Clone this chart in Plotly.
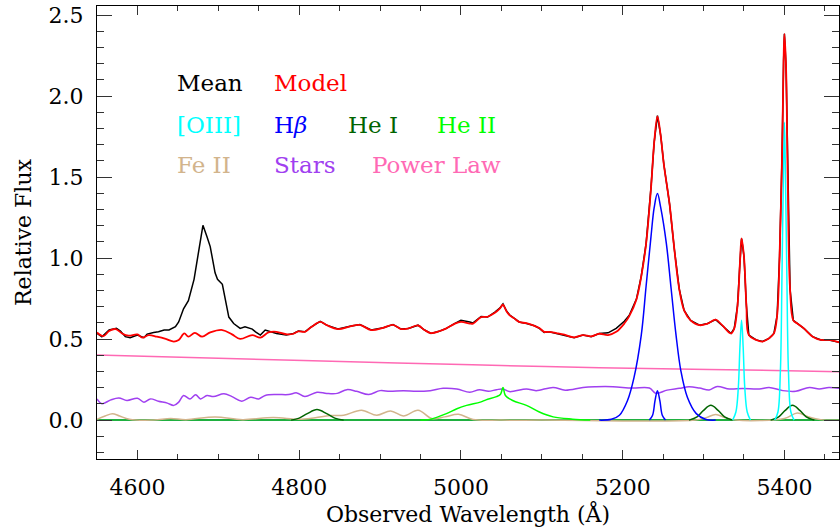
import plotly.graph_objects as go

# ---------------- data ----------------
mean_wave = [4550, 4556, 4565, 4574, 4579, 4585, 4591, 4600, 4608, 4612, 4620, 4626, 4633, 4639,
             4647, 4651, 4657, 4663, 4670, 4676, 4681, 4686, 4690, 4696, 4699, 4705, 4709, 4713,
             4719, 4727, 4733, 4742, 4746, 4752, 4758, 4764, 4772, 4784, 4793, 4799, 4807, 4815,
             4826, 4834, 4848, 4863, 4875, 4889, 4904, 4916, 4926, 4935, 4947, 4955, 4963, 4974,
             4982, 4992, 5000, 5011, 5015, 5025, 5033, 5042, 5048, 5052, 5056, 5060, 5066, 5072,
             5081, 5091, 5097, 5103, 5109, 5118, 5128, 5140, 5151, 5161, 5171, 5182, 5192, 5202,
             5208, 5217, 5223, 5229, 5235, 5239, 5243, 5247, 5251, 5258, 5264, 5270, 5276, 5284,
             5295, 5305, 5315, 5323, 5334, 5338, 5342, 5345, 5347, 5350, 5353, 5356, 5365, 5373,
             5381, 5387, 5391, 5394, 5397, 5399, 5400, 5402, 5404, 5407, 5411, 5416, 5424, 5435,
             5445, 5455, 5468]
mean_flux = [0.535, 0.515, 0.556, 0.566, 0.550, 0.515, 0.509, 0.525, 0.509, 0.531, 0.541, 0.545, 0.556, 0.556,
             0.576, 0.606, 0.687, 0.737, 0.869, 1.050, 1.202, 1.131, 1.071, 0.909, 0.869, 0.838, 0.727, 0.636,
             0.596, 0.566, 0.576, 0.562, 0.545, 0.525, 0.556, 0.545, 0.535, 0.525, 0.535, 0.550, 0.545, 0.576,
             0.610, 0.586, 0.562, 0.580, 0.590, 0.556, 0.570, 0.590, 0.562, 0.566, 0.586, 0.556, 0.535, 0.550,
             0.566, 0.596, 0.616, 0.606, 0.600, 0.640, 0.636, 0.667, 0.691, 0.717, 0.677, 0.650, 0.630, 0.606,
             0.596, 0.582, 0.566, 0.541, 0.545, 0.535, 0.525, 0.509, 0.525, 0.515, 0.535, 0.539, 0.566, 0.610,
             0.646, 0.747, 0.889, 1.091, 1.434, 1.717, 1.879, 1.758, 1.576, 1.333, 1.050, 0.808, 0.677, 0.616,
             0.586, 0.596, 0.620, 0.586, 0.535, 0.566, 0.707, 0.970, 1.121, 1.010, 0.707, 0.525, 0.495, 0.485,
             0.505, 0.535, 0.646, 1.010, 1.616, 2.222, 2.384, 2.182, 1.515, 0.808, 0.616, 0.596, 0.566, 0.515,
             0.495, 0.495, 0.480]

model_wave = [4550, 4558, 4565, 4573, 4581, 4589, 4600, 4606, 4614, 4624, 4635, 4645, 4651, 4658, 4663,
              4671, 4680, 4690, 4705, 4717, 4727, 4742, 4752, 4762, 4772, 4785, 4793, 4799, 4807, 4815,
              4826, 4834, 4848, 4863, 4875, 4889, 4904, 4916, 4926, 4935, 4947, 4955, 4963, 4974, 4982,
              4992, 5000, 5011, 5015, 5025, 5033, 5042, 5048, 5052, 5056, 5060, 5066, 5072, 5081, 5091,
              5097, 5103, 5109, 5118, 5128, 5140, 5151, 5161, 5171, 5182, 5192, 5202, 5208, 5217, 5223,
              5229, 5235, 5239, 5243, 5247, 5251, 5258, 5264, 5270, 5276, 5284, 5295, 5305, 5315, 5323,
              5334, 5338, 5342, 5345, 5347, 5350, 5353, 5356, 5365, 5373, 5381, 5387, 5391, 5394, 5397,
              5399, 5400, 5402, 5404, 5407, 5411, 5416, 5424, 5435, 5445, 5455, 5468]
model_flux = [0.541, 0.519, 0.550, 0.562, 0.535, 0.521, 0.529, 0.509, 0.525, 0.515, 0.501, 0.485, 0.495, 0.535, 0.515,
              0.539, 0.515, 0.541, 0.556, 0.529, 0.501, 0.525, 0.509, 0.541, 0.545, 0.529, 0.533, 0.548, 0.545, 0.574,
              0.606, 0.586, 0.562, 0.578, 0.588, 0.556, 0.570, 0.588, 0.562, 0.566, 0.584, 0.556, 0.537, 0.550, 0.566,
              0.594, 0.606, 0.596, 0.596, 0.636, 0.638, 0.662, 0.688, 0.712, 0.675, 0.648, 0.628, 0.606, 0.598, 0.582,
              0.568, 0.545, 0.545, 0.537, 0.527, 0.511, 0.525, 0.517, 0.533, 0.525, 0.545, 0.596, 0.640, 0.745, 0.887,
              1.090, 1.430, 1.715, 1.875, 1.755, 1.575, 1.333, 1.050, 0.808, 0.677, 0.616, 0.586, 0.596, 0.620, 0.586,
              0.535, 0.566, 0.707, 0.970, 1.121, 1.010, 0.707, 0.525, 0.495, 0.485, 0.505, 0.535, 0.646, 1.010, 1.616,
              2.222, 2.384, 2.182, 1.515, 0.808, 0.616, 0.596, 0.566, 0.515, 0.495, 0.495, 0.480]

oiii_wave = [5336, 5340, 5343, 5345, 5347, 5349, 5351, 5354, 5358, None,
             5388, 5392, 5395, 5397, 5399, 5400, 5401, 5403, 5405, 5408, 5412]
oiii_flux = [0.0, 0.05, 0.20, 0.45, 0.616, 0.45, 0.20, 0.05, 0.0, None,
             0.0, 0.05, 0.30, 0.90, 1.60, 1.838, 1.60, 0.90, 0.30, 0.05, 0.0]

hb_broad_wave = [5171, 5186, 5196, 5206, 5214, 5223, 5229, 5235, 5239, 5243, 5247, 5254, 5260, 5266,
                 5272, 5280, 5291, 5303, 5315]
hb_broad_flux = [0.0, 0.005, 0.03, 0.121, 0.262, 0.525, 0.828, 1.131, 1.313, 1.398, 1.313, 1.091, 0.808, 0.525,
                 0.303, 0.141, 0.040, 0.004, 0.0]
hb_narrow_wave = [5233, 5237, 5240, 5243, 5246, 5249, 5253]
hb_narrow_flux = [0.0, 0.03, 0.12, 0.182, 0.12, 0.03, 0.0]

hei_wave = [4790, 4800, 4810, 4822, 4834, 4844, 4855, None,
            5282, 5292, 5300, 5309, 5318, 5326, 5336, None,
            5383, 5393, 5401, 5410, 5419, 5427, 5437]
hei_flux = [0.0, 0.012, 0.040, 0.065, 0.040, 0.012, 0.0, None,
            0.0, 0.020, 0.060, 0.091, 0.060, 0.020, 0.0, None,
            0.0, 0.020, 0.060, 0.091, 0.060, 0.020, 0.0]

heii_wave = [4950, 4963, 4982, 4995, 5007, 5024, 5031, 5044, 5049, 5052, 5055, 5064, 5081, 5097,
             5114, 5138, 5160]
heii_flux = [0.0, 0.006, 0.040, 0.070, 0.091, 0.111, 0.125, 0.145, 0.160, 0.202, 0.152, 0.121, 0.091, 0.050,
             0.020, 0.006, 0.0]

feii_wave = [4550, 4560, 4569, 4578, 4590, 4620, 4641, 4660, 4696, 4730, 4768, 4800, 4820, 4838, 4855,
             4877, 4896, 4913, 4929, 4947, 4964, 4980, 4997, 5015, 5050, 5100, 5290, 5303, 5315, 5327,
             5340, 5400, 5416, 5430, 5445, 5468]
feii_flux = [0.005, 0.025, 0.040, 0.025, 0.005, 0.0, 0.010, 0.003, 0.020, 0.003, 0.016, 0.005, 0.015, 0.028, 0.030,
             0.061, 0.030, 0.057, 0.026, 0.061, 0.010, 0.020, 0.036, 0.004, 0.0, 0.0, 0.0, 0.015, 0.035, 0.015,
             0.0, 0.010, 0.044, 0.020, 0.003, 0.0]

stars_wave = [4550, 4556, 4567, 4577, 4587, 4600, 4608, 4616, 4626, 4637, 4645, 4651, 4657, 4665, 4672,
              4678, 4686, 4694, 4707, 4717, 4729, 4740, 4750, 4758, 4772, 4787, 4797, 4807, 4822, 4834,
              4847, 4859, 4871, 4886, 4900, 4912, 4929, 4945, 4962, 4978, 4995, 5011, 5023, 5034, 5044,
              5052, 5060, 5081, 5093, 5114, 5129, 5151, 5167, 5188, 5212, 5233, 5241, 5255, 5270, 5282,
              5295, 5307, 5317, 5332, 5348, 5369, 5381, 5398, 5414, 5431, 5443, 5455, 5468]
stars_flux = [0.131, 0.101, 0.125, 0.137, 0.121, 0.135, 0.111, 0.131, 0.117, 0.105, 0.091, 0.111, 0.152, 0.131, 0.156,
              0.131, 0.152, 0.145, 0.162, 0.145, 0.117, 0.141, 0.131, 0.152, 0.158, 0.158, 0.168, 0.145, 0.172, 0.165,
              0.165, 0.188, 0.178, 0.158, 0.182, 0.178, 0.182, 0.178, 0.182, 0.196, 0.192, 0.172, 0.188, 0.178, 0.188,
              0.192, 0.176, 0.192, 0.182, 0.202, 0.185, 0.202, 0.206, 0.206, 0.198, 0.198, 0.165, 0.185, 0.196, 0.206,
              0.198, 0.186, 0.208, 0.192, 0.195, 0.192, 0.202, 0.182, 0.178, 0.202, 0.192, 0.202, 0.196]

pl_wave = [4550, 4700, 4921, 5050, 5171, 5307, 5468]
pl_flux = [0.402, 0.382, 0.353, 0.337, 0.323, 0.313, 0.299]

legend_rows = [
    [("Mean", "black"), ("Model", "#ff0000")],
    [("[OIII]", "#00ffff"), ("H<i>β</i>", "#0000ff"), ("He I", "#006400"), ("He II", "#00ff00")],
    [("Fe II", "#d2b48c"), ("Stars", "#a040f0"), ("Power Law", "#ff69b4")],
]
legend_x = [[0.109, 0.240], [0.109, 0.240, 0.340, 0.460], [0.109, 0.240, 0.372]]
legend_y = [0.830, 0.737, 0.649]

FONT = "DejaVu Serif"

fig = go.Figure()


def add(x, y, color, width=1.5, shape="linear"):
    fig.add_trace(go.Scatter(x=x, y=y, mode="lines", connectgaps=False,
                             line=dict(color=color, width=width, shape=shape),
                             hoverinfo="skip", showlegend=False))


add(pl_wave, pl_flux, "#ff69b4", 1.5, "spline")
add(stars_wave, stars_flux, "#a040f0", 1.5, "spline")
add(feii_wave, feii_flux, "#d2b48c", 1.5, "spline")
add(hei_wave, hei_flux, "#006400", 1.5, "spline")
add(heii_wave, heii_flux, "#00ff00", 1.5, "spline")
add(hb_broad_wave, hb_broad_flux, "#0000ff", 1.5, "spline")
add(hb_narrow_wave, hb_narrow_flux, "#0000ff", 1.5, "spline")
add(oiii_wave, oiii_flux, "#00ffff", 1.5, "spline")
add(mean_wave, mean_flux, "black", 1.5, "linear")
add(model_wave, model_flux, "#ff0000", 1.8, "spline")

annotations = []
for row, xs, yv in zip(legend_rows, legend_x, legend_y):
    for (txt, col), xv in zip(row, xs):
        annotations.append(dict(x=xv, y=yv, xref="paper", yref="paper", text=txt,
                                showarrow=False, xanchor="left", yanchor="middle", xshift=-3,
                                font=dict(family=FONT, size=23, color=col)))

fig.update_layout(
    width=840, height=531,
    margin=dict(l=97, r=1, t=6, b=72),
    paper_bgcolor="white", plot_bgcolor="white",
    showlegend=False,
    annotations=annotations,
    font=dict(family=FONT, size=22, color="black"),
)
fig.update_xaxes(
    range=[4550, 5467.5], showgrid=False, zeroline=False, automargin=False,
    showline=True, linecolor="black", linewidth=1.2, mirror="ticks",
    ticks="inside", ticklen=9, tickwidth=1.2, tickcolor="#333",
    tick0=4600, dtick=200,
    minor=dict(dtick=50, tick0=4600, ticks="inside", ticklen=5, tickwidth=1.2, tickcolor="#333"),
    tickfont=dict(family=FONT, size=22, color="black"),
    ticklabelstandoff=8,
    title=dict(text="Observed Wavelength (Å)", font=dict(family=FONT, size=22, color="black"), standoff=8),
)
fig.update_yaxes(
    range=[-0.240, 2.556], showgrid=False, automargin=False,
    zeroline=True, zerolinecolor="#1fb040", zerolinewidth=2,
    showline=True, linecolor="black", linewidth=1.2, mirror="ticks",
    ticks="inside", ticklen=15, tickwidth=1.2, tickcolor="#333",
    tick0=0, dtick=0.5, tickformat=".1f",
    minor=dict(dtick=0.1, tick0=0, ticks="inside", ticklen=7, tickwidth=1.2, tickcolor="#333"),
    tickfont=dict(family=FONT, size=22, color="black"),
    ticklabelstandoff=8, ticklabeloverflow="allow",
    title=dict(text="Relative Flux", font=dict(family=FONT, size=22, color="black"), standoff=10),
)

fig.write_html("out.html")
